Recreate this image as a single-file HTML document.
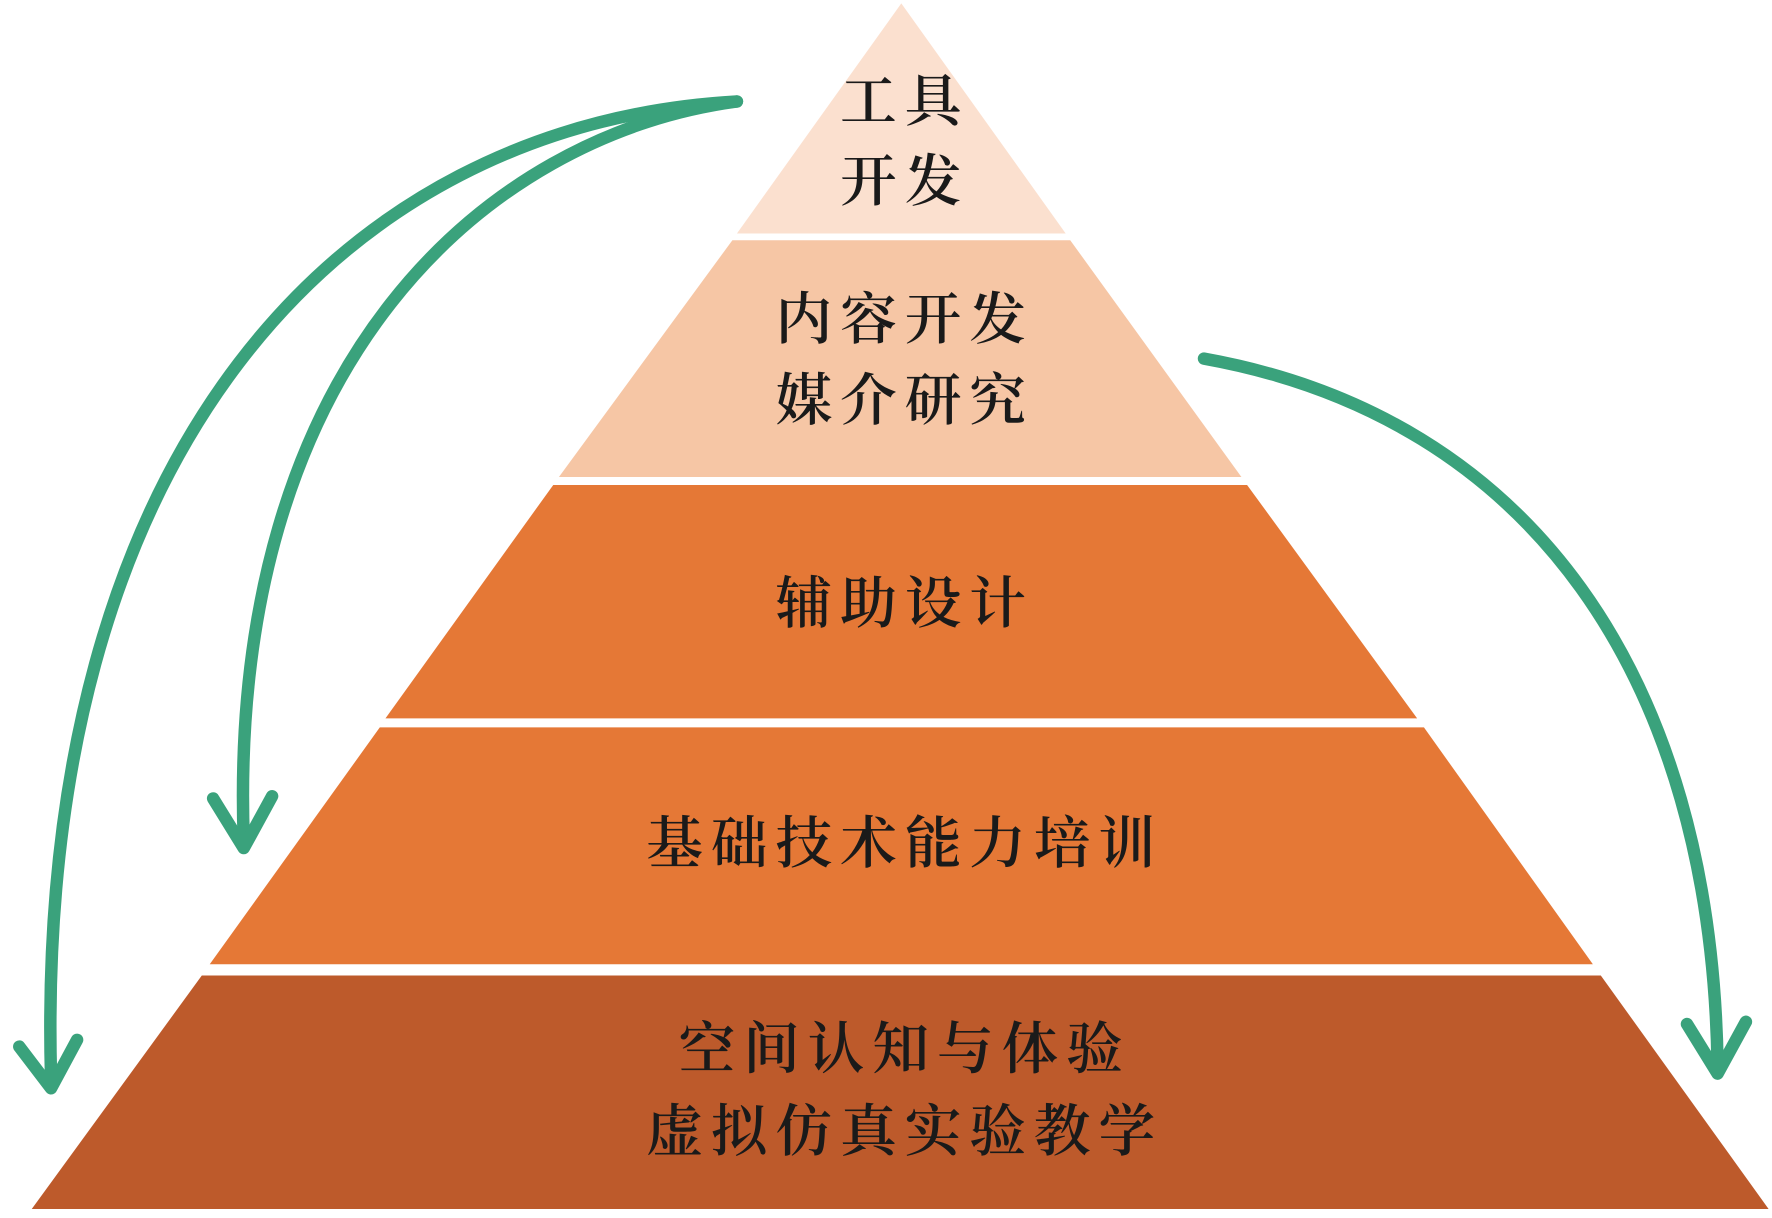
<!DOCTYPE html>
<html><head><meta charset="utf-8"><style>
html,body{margin:0;padding:0;background:#fff;}
svg{display:block;}
text{font-family:"Liberation Serif","Noto Serif CJK SC","Noto Sans CJK SC",serif;font-size:50px;font-weight:600;fill:#1a1a1a;text-anchor:middle;letter-spacing:7px;}
</style></head><body>
<svg width="1772" height="1218" viewBox="0 0 1563 1080" preserveAspectRatio="none" xmlns="http://www.w3.org/2000/svg">
<polygon points="795,3 940,207 650,207" fill="#fbe0cf"/>
<polygon points="646,213 944,213 1095,423 493,423" fill="#f6c6a5"/>
<polygon points="488,430 1100,430 1250,637 340,637" fill="#e57836"/>
<polygon points="335,645 1256,645 1405,855 185,855" fill="#e57836"/>
<polygon points="178,865 1412,865 1560,1072 28,1072" fill="#bd5a2b"/>
<text x="798" y="107">工具</text>
<text x="798" y="178">开发</text>
<text x="798" y="300">内容开发</text>
<text x="798" y="372">媒介研究</text>
<text x="798" y="552">辅助设计</text>
<text x="798" y="765">基础技术能力培训</text>
<text x="798" y="947">空间认知与体验</text>
<text x="798" y="1020">虚拟仿真实验教学</text>
<g fill="none" stroke="#3aa27c" stroke-width="11" stroke-linecap="round" stroke-linejoin="round">
<path d="M650,90 C 300,110 30,400 45,955"/>
<path d="M650,90 C 430,120 200,320 215,745"/>
<path d="M1062,318 C 1350,370 1510,600 1515,945"/>
<polyline points="17,928 45,965 68,922"/>
<polyline points="188,708 215,752 240,706"/>
<polyline points="1488,908 1515,952 1540,906"/>
</g>
</svg>
</body></html>
